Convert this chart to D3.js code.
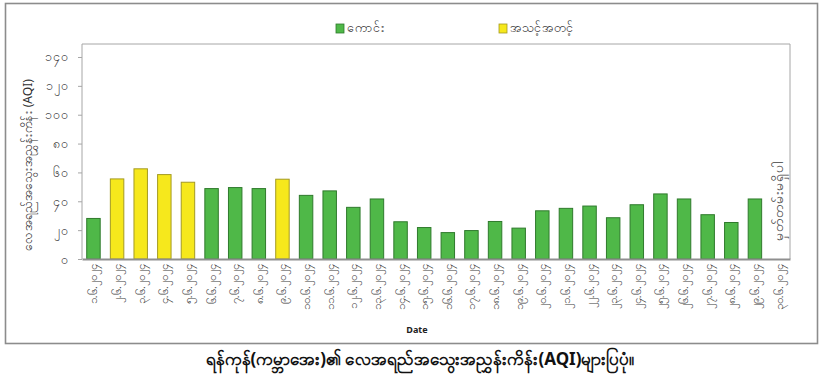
<!DOCTYPE html>
<html><head><meta charset="utf-8">
<script src="https://cdn.jsdelivr.net/npm/d3@7/dist/d3.min.js"></script>
<style>body{margin:0;background:#fff;font-family:"Noto Sans","DejaVu Sans",sans-serif}</style>
</head><body>
<svg id="c" width="824" height="380"></svg>
<script>
const myDigits = ["၀","၁","၂","၃","၄","၅","၆","၇","၈","၉"];
const toMy = n => String(n).split("").map(c => myDigits[+c] ?? c).join("");
const days = d3.range(1, 31);
const categories = days.map(d => toMy(d) + ".၆.၂၀၂၄");
const values = [28.1,55.5,62.5,58.5,53.2,48.8,49.5,48.8,55.3,44.1,47.2,35.8,41.6,25.8,21.8,18.3,19.7,26.0,21.4,33.4,35.1,36.7,28.6,37.6,45.1,41.6,30.7,25.3,41.6,null];
const levels = ["ကောင်း","အသင့်အတင့်"];
const levelColors = ["#4fb848","#f6e81c"];
const levelStroke = ["#2f7a2c","#a49a22"];
const yTicks = [0,20,40,60,80,100,120,140];
const title = "ရန်ကုန်(ကမ္ဘာအေး)၏ လေအရည်အသွေးအညွှန်းကိန်း(AQI)များပြပုံ။";
const yTitle = "လေအရည်အသွေးအညွှန်းကိန်း (AQI)";
const xTitle = "Date";
const noRecord = "မှတ်တမ်းမရှိပါ";

const svg = d3.select("#c");
const m = {l:82, r:790, t:44, b:259};
svg.append("rect").attr("x",5.5).attr("y",3.5).attr("width",812).attr("height",340)
  .attr("fill","none").attr("stroke","#8c8c8c").attr("stroke-width",1.6);

const x = d3.scaleBand().domain(categories).range([m.l, m.r]).paddingInner(0.43).paddingOuter(0.2);
const y = d3.scaleLinear().domain([0,149]).range([m.b, m.t]);

svg.append("path").attr("d",`M${m.l},${m.b}V${m.t}H${m.r}V${m.b}`).attr("fill","none").attr("stroke","#a6a6a6").attr("stroke-width",1);

const ya = svg.append("g").attr("transform",`translate(${m.l},0)`)
  .call(d3.axisLeft(y).tickValues(yTicks).tickFormat(toMy).tickSize(4).tickPadding(9));
ya.select(".domain").remove();
ya.selectAll(".tick line").attr("stroke","#a6a6a6");
ya.selectAll(".tick text").attr("fill","#404040").style("font-size","12.5px").style("font-family","Noto Sans, DejaVu Sans, sans-serif");

const data = categories.map((c,i)=>({c, v: values[i]})).filter(d=>d.v!=null);
svg.append("g").selectAll("rect").data(data).join("rect")
  .attr("x", d=>x(d.c)).attr("width", x.bandwidth())
  .attr("y", d=>y(d.v)).attr("height", d=>y(0)-y(d.v))
  .attr("fill", d=> d.v>50 ? levelColors[1] : levelColors[0])
  .attr("stroke", d=> d.v>50 ? levelStroke[1] : levelStroke[0]).attr("stroke-width",1);

const xa = svg.append("g").attr("transform",`translate(0,${m.b})`)
  .call(d3.axisBottom(x).tickSize(0).tickPadding(0));
xa.select(".domain").attr("stroke","#8f8f8f").attr("stroke-width",2);
xa.selectAll(".tick text")
  .attr("transform","translate(0,5) rotate(-90)")
  .attr("text-anchor","end").attr("dy","0.35em").attr("x",0).attr("y",0)
  .attr("fill","#404040").style("font-size","11.5px");

svg.append("text").attr("transform",`translate(${x(categories[29])+x.bandwidth()/2},241) rotate(-90)`)
  .attr("dy","0.35em").attr("fill","#404040").style("font-size","14px").text(noRecord);

svg.append("text").attr("transform",`translate(27,165) rotate(-90)`)
  .attr("text-anchor","middle").attr("dy","0.35em").attr("fill","#303030").style("font-size","13px")
  .attr("textLength",172).attr("lengthAdjust","spacingAndGlyphs").text(yTitle);
svg.append("text").attr("x",417).attr("y",333).attr("text-anchor","middle")
  .attr("fill","#222").style("font-size","9px").style("font-weight","bold").text(xTitle);
svg.append("text").attr("x",420).attr("y",365).attr("text-anchor","middle")
  .attr("fill","#111").style("font-size","17px").style("font-weight","bold").text(title);

const lg = svg.append("g");
const lx = [336, 499];
levels.forEach((l,i)=>{
  lg.append("rect").attr("x",lx[i]).attr("y",24).attr("width",8).attr("height",9)
    .attr("fill",levelColors[i]).attr("stroke",levelStroke[i]).attr("stroke-width",0.8);
  lg.append("text").attr("x",lx[i]+11).attr("y",28).attr("dy","0.35em")
    .attr("fill","#303030").style("font-size","12.5px").text(l);
});
</script>
</body></html>
